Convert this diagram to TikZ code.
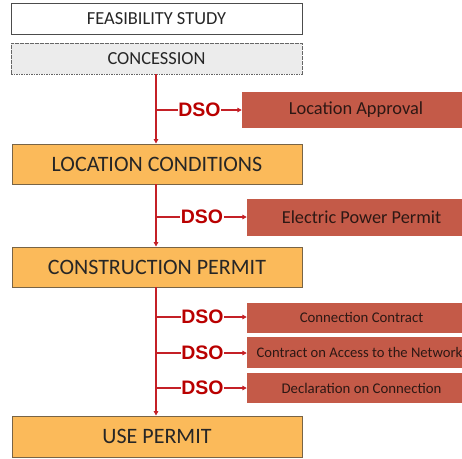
\documentclass[tikz,border=0pt]{standalone}
\usepackage{fontspec}
\setmainfont{Carlito}
\newfontfamily\dsofont{Liberation Sans}
\usetikzlibrary{arrows.meta,patterns}
\definecolor{orangefill}{RGB}{251,186,90}
\definecolor{orangeedge}{RGB}{120,100,70}
\definecolor{redbox}{RGB}{196,90,72}
\definecolor{redtext}{RGB}{45,24,20}
\definecolor{lnred}{RGB}{196,32,38}
\definecolor{dsored}{RGB}{185,0,0}
\begin{document}
\begin{tikzpicture}[x=1pt,y=-1pt,
  stage/.style={draw=orangeedge,line width=0.9pt,fill=orangefill,minimum width=290pt,minimum height=40pt,inner sep=0pt,font=\fontsize{22}{24}\selectfont,text=black!85},
  topbox/.style={draw=black!70,line width=0.8pt,fill=white,minimum width=291pt,minimum height=31pt,inner sep=0pt,font=\fontsize{18.4}{20}\selectfont,text=black!85},
  conbox/.style={draw=black!60,line width=0.8pt,dash pattern=on 1.6pt off 0.9pt,fill=gray!15,minimum width=291pt,minimum height=31pt,inner sep=0pt,font=\fontsize{18.4}{20}\selectfont,text=black!85},
  permit/.style={fill=redbox,minimum width=229pt,inner sep=0pt,text=redtext},
  dso/.style={font=\dsofont\bfseries\fontsize{19.5}{20}\selectfont,text=dsored,inner sep=0.5pt},
  flow/.style={draw=lnred,line width=1.2pt},
  tip/.style={-{Triangle[length=4.5pt,width=4.5pt]}}
]
\useasboundingbox (0,0) rectangle (462,458);
\clip (0,0) rectangle (462,458);
% left column
\node[topbox] (fs) at (156.5,18.5) {FEASIBILITY STUDY};
\node[conbox] (con) at (156.5,58.5) {CONCESSION};
\node[stage] (loc) at (157,164) {LOCATION CONDITIONS};
\node[stage] (cp) at (157,267) {CONSTRUCTION PERMIT};
\node[stage,minimum height=41pt] (up) at (157,436.5) {USE PERMIT};
% right permits
\node[permit,minimum width=228pt,minimum height=36pt,font=\fontsize{18.4}{20}\selectfont] (la) at (356,110) {Location Approval};
\node[permit,minimum height=37pt,font=\fontsize{18.3}{20}\selectfont] (ep) at (361.5,217.5) {Electric Power Permit};
\node[permit,minimum height=30pt,font=\fontsize{14.8}{16}\selectfont] (cc) at (361.5,317.5) {Connection Contract};
\node[permit,minimum height=31pt,font=\fontsize{14.6}{16}\selectfont] (ca) at (361.5,352.5) {\hspace*{-4pt}Contract on Access to the Network};
\node[permit,minimum height=30pt,font=\fontsize{14.8}{16}\selectfont] (dc) at (361.5,388) {Declaration on Connection};
% DSO labels
\node[dso] (d1) at (199.5,110) {DSO};
\node[dso] (d2) at (202,217) {DSO};
\node[dso] (d3) at (202.5,317) {DSO};
\node[dso] (d4) at (202.5,353) {DSO};
\node[dso] (d5) at (202.5,388) {DSO};
% branch points
\coordinate (b1) at (156,110);
\coordinate (b2) at (156,217);
\coordinate (b3) at (156,317);
\coordinate (b4) at (156,353);
\coordinate (b5) at (156,388);
% vertical flow
\draw[flow,tip] (con.south -| b1) -- (loc.north -| b1);
\draw[flow,tip] (loc.south -| b2) -- (cp.north -| b2);
\draw[flow,tip] (cp.south -| b3) -- (up.north -| b3);
% branches
\foreach \b/\d/\p in {b1/d1/la,b2/d2/ep,b3/d3/cc,b4/d4/ca,b5/d5/dc}{
  \draw[flow] (\b) -- (\d.west);
  \draw[flow,tip] (\d.east) -- (\d.east -| \p.west);
}
\end{tikzpicture}
\end{document}
